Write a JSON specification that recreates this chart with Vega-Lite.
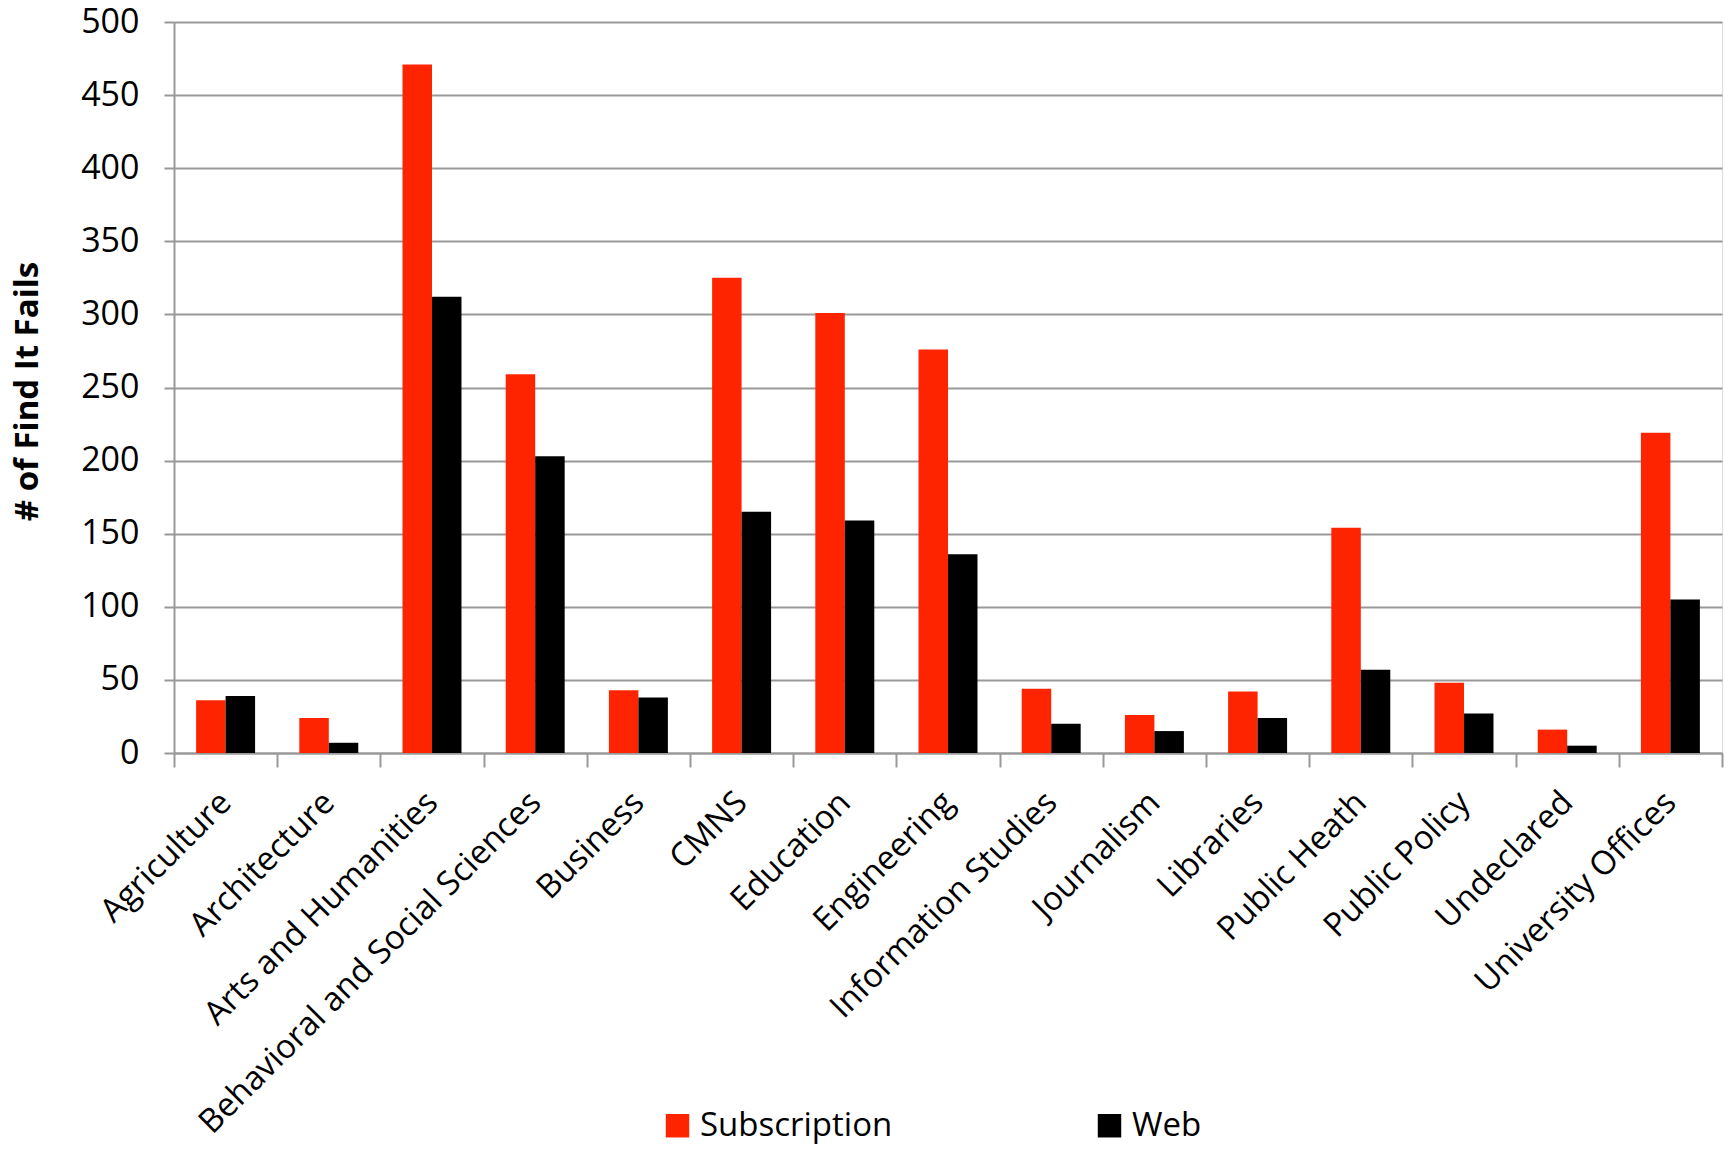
{
  "$schema": "https://vega.github.io/schema/vega-lite/v6.json",
  "autosize": {"type": "none"},
  "width": 1548,
  "height": 731,
  "padding": {"left": 174, "top": 22, "right": 3, "bottom": 399},
  "background": "white",
  "data": {
    "values": [
      {"dept": "Agriculture", "type": "Subscription", "count": 36},
      {"dept": "Agriculture", "type": "Web", "count": 39},
      {"dept": "Architecture", "type": "Subscription", "count": 24},
      {"dept": "Architecture", "type": "Web", "count": 7},
      {"dept": "Arts and Humanities", "type": "Subscription", "count": 471},
      {"dept": "Arts and Humanities", "type": "Web", "count": 312},
      {"dept": "Behavioral and Social Sciences", "type": "Subscription", "count": 259},
      {"dept": "Behavioral and Social Sciences", "type": "Web", "count": 203},
      {"dept": "Business", "type": "Subscription", "count": 43},
      {"dept": "Business", "type": "Web", "count": 38},
      {"dept": "CMNS", "type": "Subscription", "count": 325},
      {"dept": "CMNS", "type": "Web", "count": 165},
      {"dept": "Education", "type": "Subscription", "count": 301},
      {"dept": "Education", "type": "Web", "count": 159},
      {"dept": "Engineering", "type": "Subscription", "count": 276},
      {"dept": "Engineering", "type": "Web", "count": 136},
      {"dept": "Information Studies", "type": "Subscription", "count": 44},
      {"dept": "Information Studies", "type": "Web", "count": 20},
      {"dept": "Journalism", "type": "Subscription", "count": 26},
      {"dept": "Journalism", "type": "Web", "count": 15},
      {"dept": "Libraries", "type": "Subscription", "count": 42},
      {"dept": "Libraries", "type": "Web", "count": 24},
      {"dept": "Public Heath", "type": "Subscription", "count": 154},
      {"dept": "Public Heath", "type": "Web", "count": 57},
      {"dept": "Public Policy", "type": "Subscription", "count": 48},
      {"dept": "Public Policy", "type": "Web", "count": 27},
      {"dept": "Undeclared", "type": "Subscription", "count": 16},
      {"dept": "Undeclared", "type": "Web", "count": 5},
      {"dept": "University Offices", "type": "Subscription", "count": 219},
      {"dept": "University Offices", "type": "Web", "count": 105}
    ]
  },
  "mark": {"type": "bar"},
  "encoding": {
    "x": {
      "field": "dept",
      "type": "nominal",
      "sort": null,
      "scale": {"paddingInner": 0, "paddingOuter": 0},
      "axis": {
        "title": null,
        "tickBand": "extent",
        "labelAngle": -45,
        "labelAlign": "right",
        "labelBaseline": "middle",
        "labelFont": "Open Sans",
        "labelFontSize": 33,
        "labelColor": "black",
        "labelPadding": 30,
        "labelLimit": 1000,
        "tickSize": 14,
        "tickColor": "#999999",
        "tickWidth": 2,
        "domainColor": "#999999",
        "domainWidth": 2,
        "grid": false
      }
    },
    "xOffset": {
      "field": "type",
      "type": "nominal",
      "scale": {"paddingInner": 0, "paddingOuter": 0.75}
    },
    "y": {
      "field": "count",
      "type": "quantitative",
      "scale": {"domain": [0, 500], "nice": false},
      "axis": {
        "title": "# of Find It Fails",
        "titleFont": "Open Sans",
        "titleFontWeight": "bold",
        "titleFontSize": 33,
        "titleColor": "black",
        "titleAngle": -90,
        "titleAlign": "center",
        "titleBaseline": "middle",
        "titleX": -147,
        "titleY": 369,
        "values": [0, 50, 100, 150, 200, 250, 300, 350, 400, 450, 500],
        "labelFont": "Open Sans",
        "labelFontSize": 34,
        "labelColor": "black",
        "labelPadding": 25,
        "tickSize": 10,
        "tickColor": "#999999",
        "tickWidth": 2,
        "domainColor": "#999999",
        "domainWidth": 2,
        "grid": true,
        "gridColor": "#999999",
        "gridWidth": 2
      }
    },
    "color": {
      "field": "type",
      "type": "nominal",
      "scale": {"domain": ["Subscription", "Web"], "range": ["#FF2400", "#000000"]},
      "legend": {
        "title": null,
        "orient": "none",
        "direction": "horizontal",
        "legendX": 487,
        "legendY": 1087,
        "symbolType": "square",
        "symbolSize": 550,
        "symbolStrokeWidth": 0,
        "symbolOpacity": 1,
        "labelFont": "Open Sans",
        "labelFontSize": 33,
        "labelColor": "black",
        "labelOffset": 6,
        "columnPadding": 200,
        "labelLimit": 1000
      }
    }
  }
}
